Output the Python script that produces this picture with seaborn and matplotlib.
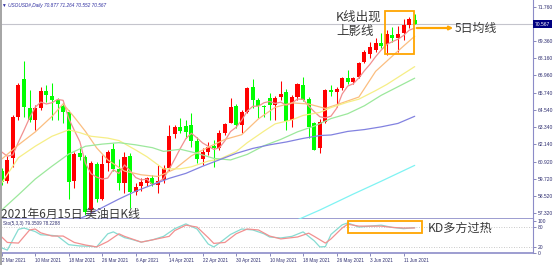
import numpy as np
import pandas as pd
import matplotlib
matplotlib.use("Agg")
import matplotlib.pyplot as plt
from matplotlib.patches import Rectangle, FancyArrowPatch
from matplotlib.lines import Line2D
import matplotlib.transforms as mtransforms
import seaborn as sns

# ---------------- data ----------------
opens = [60.29, 59.59, 61.16, 64.07, 66.69, 64.70, 63.84, 64.70, 65.89, 65.52,
         65.24, 64.84, 64.42, 59.59, 61.51, 61.27, 57.50, 60.76, 58.28, 60.81,
         61.81, 60.39, 59.45, 61.32, 58.77, 59.24, 59.40, 59.76, 59.28, 59.64,
         60.45, 62.86, 63.33, 63.42, 63.49, 62.39, 61.08, 61.62, 62.02, 61.90,
         62.95, 63.65, 64.82, 63.49, 64.42, 66.18, 65.24, 64.82, 65.36, 64.89,
         65.43, 65.78, 63.84, 65.43, 66.27, 65.29, 63.65, 61.90, 63.72, 65.94,
         65.82, 66.06, 66.76, 66.53, 66.88, 67.93, 68.44, 68.74, 69.21, 69.14,
         69.80, 69.56, 69.91, 70.50, 70.877]
highs = [60.50, 61.30, 64.19, 66.45, 67.97, 65.94, 64.89, 66.17, 66.29, 66.41,
         65.36, 65.01, 64.54, 61.62, 61.97, 61.40, 61.00, 60.93, 61.39, 61.74,
         62.21, 61.10, 61.62, 61.55, 59.40, 59.76, 59.88, 59.99, 60.69, 60.69,
         63.49, 63.49, 64.00, 63.84, 64.35, 62.67, 61.85, 62.32, 62.44, 63.14,
         63.65, 65.36, 64.96, 64.54, 66.18, 66.69, 65.36, 64.89, 65.71, 65.52,
         66.60, 65.99, 65.59, 66.46, 66.88, 65.43, 63.72, 63.91, 65.99, 66.29,
         66.18, 66.88, 67.35, 66.88, 67.93, 68.75, 69.28, 69.56, 69.91, 70.15,
         70.38, 70.45, 70.92, 71.08, 71.264]
lows = [59.30, 59.40, 60.57, 63.84, 64.07, 63.72, 63.14, 64.54, 65.12, 63.84,
        63.84, 63.61, 58.28, 59.05, 61.04, 57.20, 57.30, 58.12, 58.20, 60.30,
        60.30, 58.93, 58.70, 57.65, 58.60, 58.84, 59.20, 59.20, 58.70, 59.40,
        60.30, 62.60, 62.90, 62.60, 61.97, 60.80, 60.70, 61.40, 60.57, 61.74,
        62.79, 63.61, 63.26, 62.90, 64.31, 64.66, 63.95, 64.07, 63.84, 63.84,
        65.24, 63.14, 63.37, 65.24, 65.19, 62.55, 61.74, 61.50, 63.61, 65.50,
        64.77, 65.94, 66.36, 66.36, 66.76, 67.81, 68.16, 68.63, 68.86, 68.40,
        69.33, 68.60, 69.45, 70.26, 70.552]
closes = [59.52, 61.04, 64.03, 66.29, 64.77, 63.84, 64.70, 65.89, 65.59, 65.24,
          64.96, 64.42, 59.52, 61.46, 61.23, 57.40, 60.81, 58.28, 60.76, 61.58,
          60.39, 59.45, 61.27, 58.77, 59.17, 59.52, 59.76, 59.33, 59.59, 60.50,
          62.74, 63.33, 63.10, 63.02, 62.37, 61.08, 61.57, 61.97, 61.90, 62.95,
          63.54, 64.77, 63.49, 64.42, 66.06, 65.24, 64.82, 64.73, 64.87, 65.36,
          65.66, 63.77, 65.43, 66.34, 65.24, 63.33, 61.74, 63.72, 65.94, 65.82,
          66.04, 66.76, 66.53, 66.76, 67.86, 68.60, 68.98, 69.21, 69.05, 69.84,
          69.56, 69.84, 70.50, 70.92, 70.567]

ma5 = [61.6, 61.3, 61.4, 62.3, 63.13, 64.00, 64.73, 65.10, 64.96, 65.05,
       65.28, 65.22, 63.95, 63.12, 62.32, 60.81, 60.08, 59.84, 59.70, 59.77,
       60.36, 60.09, 60.69, 60.29, 59.81, 59.64, 59.70, 59.31, 59.47, 59.74,
       60.38, 61.10, 61.85, 62.54, 62.91, 62.58, 62.23, 62.00, 61.78, 61.89,
       62.39, 63.03, 63.33, 63.83, 64.46, 64.80, 64.81, 65.05, 65.14, 65.00,
       65.09, 64.88, 65.02, 65.31, 65.29, 64.82, 64.42, 64.07, 63.99, 64.11,
       64.65, 65.66, 66.22, 66.38, 66.79, 67.30, 67.75, 68.28, 68.74, 69.14,
       69.33, 69.50, 69.76, 70.13, 70.28]

ma10_idx = [0, 3, 6, 9, 11, 13, 15, 17, 19, 22, 25, 28, 31, 34, 37, 40, 43, 46,
            49, 52, 55, 58, 61, 64, 67, 70, 72, 74]
ma10 = [61.1, 62.1, 63.0, 64.09, 64.97, 64.04, 63.04, 61.89, 61.04, 60.26,
        60.00, 59.88, 60.40, 61.33, 61.93, 62.48, 62.81, 63.92, 64.73, 65.04,
        64.96, 64.65, 65.04, 65.45, 67.25, 68.32, 69.02, 69.71]

ma20_idx = [0, 3, 6, 9, 12, 14, 16, 19, 21, 24, 26, 29, 32, 34, 37, 39, 42, 44,
            47, 49, 52, 54, 57, 59, 62, 64, 67, 69, 72, 74]
ma20 = [59.43, 61.2, 62.0, 62.7, 63.15, 62.95, 62.7, 62.57, 62.4, 61.74,
        61.27, 60.41, 60.42, 60.56, 60.96, 61.09, 61.62, 62.25, 63.06, 63.57,
        63.85, 64.16, 64.37, 64.71, 65.09, 65.30, 65.90, 66.33, 67.08, 67.58]

ma30_idx = [0, 3, 6, 9, 12, 15, 18, 21, 24, 27, 29, 32, 35, 38, 41, 44, 47, 50,
            53, 56, 59, 62, 65, 68, 71, 74]
ma30 = [57.53, 58.6, 59.7, 60.6, 61.45, 62.0, 62.15, 62.25, 62.1, 61.9,
        61.64, 61.79, 61.51, 61.15, 61.04, 61.43, 62.04, 62.48, 63.01, 63.41,
        63.94, 64.28, 64.84, 65.57, 66.17, 66.77]

ma60_idx = [12, 15, 18, 21, 24, 27, 30, 33, 36, 39, 42, 45, 48, 51, 54, 57, 59,
            62, 65, 68, 71, 74]
ma60 = [56.6, 57.1, 57.7, 58.3, 58.85, 59.3, 59.75, 60.1, 60.6, 61.05,
        61.5, 61.85, 62.1, 62.3, 62.55, 62.75, 62.79, 63.04, 63.17, 63.36,
        63.60, 64.10]

ma120_idx = [51, 57, 63, 68, 74]
ma120 = [56.5, 57.53, 58.65, 59.55, 60.66]

k_idx = [0, 1, 3, 4, 6, 7, 9, 10, 12, 14, 16, 17, 19, 20, 22, 23, 25, 27, 29, 31,
         33, 35, 37, 38, 39, 41, 43, 45, 47, 48, 50, 52, 54, 56, 57, 58, 59, 61,
         62, 64, 66, 68, 70, 72, 74]
k_val = [16, 9, 74, 78, 67, 57, 55, 53, 26, 22, 21, 19, 60, 66, 48, 44, 34, 41,
         52, 76, 91, 75, 28, 19, 31, 58, 75, 72, 60, 50, 47, 52, 66, 38, 19, 20,
         58, 88, 94, 81, 84, 87, 80, 76, 79.3509]
d_idx = [0, 1, 3, 5, 6, 7, 9, 11, 13, 15, 17, 19, 21, 22, 25, 27, 30, 31, 33, 35,
         37, 38, 40, 42, 44, 46, 48, 50, 53, 55, 56, 58, 59, 61, 62, 64, 66, 68,
         70, 72, 74]
d_val = [50, 33, 31, 72, 75, 63, 53, 53, 33, 25, 19, 36, 60, 52, 34, 41, 52, 70,
         87, 81, 48, 30, 33, 60, 75, 72, 53, 44, 50, 62, 52, 31, 44, 78, 90, 84,
         84, 84, 80, 78, 78.2288]

date_labels = ["2 Mar 2021", "10 Mar 2021", "18 Mar 2021", "26 Mar 2021",
               "6 Apr 2021", "14 Apr 2021", "22 Apr 2021", "30 Apr 2021",
               "10 May 2021", "18 May 2021", "26 May 2021", "3 Jun 2021",
               "11 Jun 2021"]
label_step = 6
price_ticks = [71.760, 70.560, 69.360, 68.160, 66.960, 65.740, 64.540, 63.340,
               62.140, 60.920, 59.720, 58.520, 57.320]
sto_ticks = [100, 80, 20, 0]

# ---------------- style ----------------
sns.set_theme(style="white")
plt.rcParams['font.family'] = ['Noto Sans CJK SC', 'DejaVu Sans']
SMALL = ['Liberation Sans', 'DejaVu Sans']

W, H = 554, 265
fig = plt.figure(figsize=(W / 100, H / 100), dpi=100)
fig.patch.set_facecolor('white')


def P(x, y):
    return (x / W, 1 - y / H)


# axes layout (pixels)
x0, x1 = 1, 533
main_top, main_bot, sto_bot = 0, 219, 253
ax = fig.add_axes([x0 / W, 1 - main_bot / H, (x1 - x0) / W, (main_bot - main_top) / H])
ax2 = fig.add_axes([x0 / W, 1 - sto_bot / H, (x1 - x0) / W, (sto_bot - main_bot) / H])

n = len(closes)
idx = np.arange(n)
o, h, l, c = map(np.array, (opens, highs, lows, closes))
RED, GREEN = '#FF0000', '#00FF00'
cols = np.where(c >= o, RED, GREEN)

ax.vlines(idx, l, h, colors=cols, lw=0.75, zorder=2)
ax.bar(idx, np.maximum(np.abs(c - o), 0.05), bottom=np.minimum(o, c), width=0.72,
       color=cols, lw=0, zorder=2.5)

ma_specs = [
    (idx, ma5, '#F29090'),
    (ma10_idx, ma10, '#FBBE80'),
    (ma20_idx, ma20, '#F6EE86'),
    (ma30_idx, ma30, '#9CE89C'),
    (ma60_idx, ma60, '#8282E0'),
    (ma120_idx, ma120, '#7FF3F3'),
]
for xi, yi, colr in ma_specs:
    sns.lineplot(x=list(xi), y=list(yi), ax=ax, color=colr, lw=0.9,
                 estimator=None, zorder=3)

ax.axhline(c[-1], color='#C4C4CC', lw=0.8, zorder=1)

xlim = (-0.13, 95.2)
ax.set_xlim(*xlim)
ax.set_ylim(56.902, 72.249)
ax.set_xticks([])
ax.set_xlabel('')
ax.set_ylabel('')
ax.yaxis.tick_right()
ax.set_yticks(price_ticks)
# the 70.560 label sits under the current-price box, as in the reference
ax.set_yticklabels(["" if abs(v - c[-1]) < 0.3 else f"{v:.3f}" for v in price_ticks],
                   fontfamily=SMALL)
ax.tick_params(axis='y', right=True, direction='out', length=2, width=0.5,
               colors='#5A5AA0', labelsize=3.6, pad=1.5, labelcolor='#2E2E70')

for a in (ax, ax2):
    a.set_facecolor('white')
    a.spines['left'].set_visible(False)
    a.spines['top'].set_visible(False)
    a.spines['right'].set_color('#8C8CC8')
    a.spines['right'].set_linewidth(0.8)
    a.spines['bottom'].set_color('#8C8CC8')
    a.spines['bottom'].set_linewidth(1.2)

# current price box
trans = mtransforms.blended_transform_factory(ax.transAxes, ax.transData)
ax.text(1.003, c[-1], f"{c[-1]:.3f}", transform=trans, ha='left', va='center',
        fontsize=3.6, color='white', fontfamily=SMALL, zorder=10, clip_on=False,
        bbox=dict(boxstyle='square,pad=0.35', fc='#000080', ec='none'))

# annotation box around the upper-shadow candles
ax.add_patch(Rectangle((68.75, 68.47), 5.05, 3.01, fill=False, ec='#FFA500',
                       lw=1.3, zorder=6))

# ---------------- stochastic panel ----------------
sns.lineplot(x=k_idx, y=k_val, ax=ax2, color='#86DCD2', lw=0.9, estimator=None)
sns.lineplot(x=d_idx, y=d_val, ax=ax2, color='#F29090', lw=0.9, estimator=None)
for lev in (80, 20):
    ax2.axhline(lev, color='#B8B8B8', lw=0.6, ls=(0, (1, 2)), zorder=1)
ax2.set_xlim(*xlim)
ax2.set_ylim(0, 106.25)
ax2.set_xlabel('')
ax2.set_ylabel('')
ax2.yaxis.tick_right()
ax2.set_yticks(sto_ticks)
ax2.set_yticklabels([str(v) for v in sto_ticks], fontfamily=SMALL)
ax2.tick_params(axis='y', right=True, direction='out', length=2, width=0.5,
                colors='#5A5AA0', labelsize=3.6, pad=1.5, labelcolor='#2E2E70')
tick_pos = [i * label_step for i in range(len(date_labels))]
ax2.set_xticks(tick_pos)
ax2.set_xticklabels(date_labels, fontfamily=SMALL)
for t in ax2.get_xticklabels():
    t.set_ha('left')
ax2.tick_params(axis='x', bottom=True, direction='out', length=2, width=0.5,
                colors='#5A5AA0', labelsize=3.3, pad=1.5, labelcolor='#2E2E70')
ax2.add_patch(Rectangle((62.1, 62.0), 13.2, 38.0, fill=False, ec='#FFA500',
                        lw=1.3, zorder=6))
ax2.text(0.004, 0.86, f"Sto(5,3,3) {k_val[-1]:.4f} {d_val[-1]:.4f}",
         transform=ax2.transAxes, fontsize=3.3, color='#2E2E70',
         fontfamily=SMALL, va='center', ha='left')

# ---------------- texts ----------------
fig.text(*P(2, 5), f"\u25bc USOUSD#,Daily {opens[-1]:.3f} {highs[-1]:.3f} "
         f"{lows[-1]:.3f} {closes[-1]:.3f}", fontsize=3.4, color='#2E2EA0',
         fontfamily=SMALL, va='center', ha='left', style='italic')

txt_col = '#3A3A3A'
fig.text(*P(336, 17), "K线出现", fontsize=9, color=txt_col, va='center', ha='left')
fig.text(*P(336, 32), "上影线", fontsize=9, color=txt_col, va='center', ha='left')
fig.text(*P(455, 28.5), "5日均线", fontsize=8.6, color=txt_col, va='center', ha='left')
fig.text(*P(1, 214.5), "2021年6月15日 美油日K线", fontsize=8.5, color=txt_col,
         va='center', ha='left')
fig.text(*P(428, 228.5), "KD多方过热", fontsize=8.7, color=txt_col, va='center',
         ha='left')

# arrow from the 5-day MA to its label
fig.add_artist(FancyArrowPatch(
    P(414, 28), P(456, 28), transform=fig.transFigure, arrowstyle='-|>',
    mutation_scale=5, color='#FFA500', lw=1.6))

# left border
fig.add_artist(Line2D([0.8 / W, 0.8 / W], [0, 1], transform=fig.transFigure,
                      color='#A4A4A4', lw=1.4))

fig.savefig('out.png', dpi=100)
